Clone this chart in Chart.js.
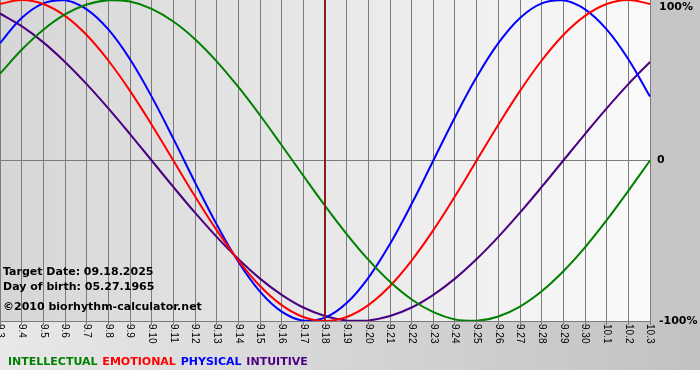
<!DOCTYPE html>
<html>
<head>
<meta charset="utf-8">
<script src="https://cdn.jsdelivr.net/npm/chart.js@4"></script>
<style>
  html, body { margin: 0; padding: 0; background: #fff; }
  #wrap { width: 700px; height: 380px; }
</style>
</head>
<body>
<div id="wrap"><canvas id="chart" width="700" height="380"></canvas></div>
<script>
// biorhythm chart, 09.03 - 10.03
const days = ['9.3','9.4','9.5','9.6','9.7','9.8','9.9','9.10','9.11','9.12','9.13','9.14','9.15','9.16','9.17','9.18',
  '9.19','9.20','9.21','9.22','9.23','9.24','9.25','9.26','9.27','9.28','9.29','9.30','10.1','10.2','10.3'];

const intellectual = [0.541, 0.690, 0.815, 0.910, 0.972, 0.999, 0.990, 0.945, 0.866, 0.756, 0.618, 0.458, 0.282, 0.095, -0.095, -0.282,
  -0.458, -0.618, -0.756, -0.866, -0.945, -0.990, -0.999, -0.972, -0.910, -0.815, -0.690, -0.541, -0.372, -0.189, 0];
const emotional = [0.975, 1, 0.975, 0.901, 0.782, 0.623, 0.434, 0.223, 0, -0.223, -0.434, -0.623, -0.782, -0.901, -0.975, -1,
  -0.975, -0.901, -0.782, -0.623, -0.434, -0.223, 0, 0.223, 0.434, 0.623, 0.782, 0.901, 0.975, 1, 0.975];
const physical = [0.731, 0.888, 0.979, 0.998, 0.942, 0.817, 0.631, 0.398, 0.136, -0.136, -0.398, -0.631, -0.817, -0.942, -0.998, -0.979,
  -0.888, -0.731, -0.520, -0.270, 0, 0.270, 0.520, 0.731, 0.888, 0.979, 0.998, 0.942, 0.817, 0.631, 0.398];
const intuitive = [0.916, 0.837, 0.736, 0.614, 0.476, 0.325, 0.165, 0, -0.165, -0.325, -0.476, -0.614, -0.736, -0.837, -0.916, -0.969,
  -0.997, -0.997, -0.969, -0.916, -0.837, -0.736, -0.614, -0.476, -0.325, -0.165, 0, 0.165, 0.325, 0.476, 0.614];

const yTicks = [1, 0, -1];
const yTickLabels = ['100%', '0', '-100%'];
const targetDay = '9.18';
const infoLines = ['Target Date: 09.18.2025', 'Day of birth: 05.27.1965', '\u00a92010 biorhythm-calculator.net'];

const boldFont = "bold 11px 'DejaVu Sans', Verdana, sans-serif";

const backdrop = {
  id: 'backdrop',
  beforeDraw(chart) {
    const { ctx, chartArea: a, width, height } = chart;
    ctx.save();
    ctx.fillStyle = '#fff';
    ctx.fillRect(0, 0, width, height);
    let g = ctx.createLinearGradient(0, 0, width, 0);
    g.addColorStop(0, '#e8e8e8');
    g.addColorStop(1, '#c2c2c2');
    ctx.fillStyle = g;
    ctx.fillRect(0, a.bottom, width, 370 - a.bottom);
    ctx.fillStyle = '#c6c6c6';
    ctx.fillRect(a.right, 0, width - a.right, a.bottom);
    g = ctx.createLinearGradient(a.left, 0, a.right, 0);
    g.addColorStop(0, '#d6d6d6');
    g.addColorStop(1, '#fafafa');
    ctx.fillStyle = g;
    ctx.fillRect(a.left, a.top, a.right - a.left, a.bottom - a.top);
    ctx.restore();
  }
};

const overlay = {
  id: 'overlay',
  afterDraw(chart) {
    const { ctx, chartArea: a } = chart;
    const x = chart.scales.x, y = chart.scales.y;
    ctx.save();

    // target date marker
    const tx = Math.round(x.getPixelForValue(days.indexOf(targetDay)));
    ctx.strokeStyle = '#8b1c1c';
    ctx.lineWidth = 2;
    ctx.beginPath();
    ctx.moveTo(tx, a.top);
    ctx.lineTo(tx, a.bottom);
    ctx.stroke();

    // date labels, rotated clockwise
    ctx.fillStyle = '#000';
    ctx.font = "10px 'Liberation Sans', Arial, sans-serif";
    ctx.textAlign = 'left';
    ctx.textBaseline = 'middle';
    days.forEach((d, i) => {
      ctx.save();
      ctx.translate(x.getPixelForValue(i), a.bottom + 3);
      ctx.rotate(Math.PI / 2);
      ctx.fillText(d, 0, 0);
      ctx.restore();
    });

    // percent labels on the right
    ctx.font = boldFont;
    yTicks.forEach((v, i) => {
      const py = Math.min(Math.max(y.getPixelForValue(v), 7), a.bottom + 1);
      ctx.fillText(yTickLabels[i], v === 0 ? a.right + 7 : a.right + 9, py);
    });

    // info text
    infoLines.forEach((t, i) => {
      ctx.fillText(t, 3, [272, 287, 307][i]);
    });

    // legend
    let lx = 8;
    chart.data.datasets.forEach(ds => {
      ctx.fillStyle = ds.borderColor;
      ctx.fillText(ds.label, lx, 362);
      lx += ctx.measureText(ds.label + ' ').width + 1;
    });
    ctx.restore();
  }
};

function line(label, data, color) {
  return { label, data, borderColor: color, borderWidth: 2, pointRadius: 0, tension: 0.4, fill: false };
}

new Chart(document.getElementById('chart'), {
  type: 'line',
  data: {
    labels: days,
    datasets: [
      line('INTELLECTUAL', intellectual, '#008000'),
      line('EMOTIONAL', emotional, '#ff0000'),
      line('PHYSICAL', physical, '#0000ff'),
      line('INTUITIVE', intuitive, '#4b0082')
    ]
  },
  options: {
    responsive: false,
    animation: false,
    layout: { padding: 0 },
    plugins: { legend: { display: false }, tooltip: { enabled: false } },
    scales: {
      x: {
        offset: false,
        grid: { color: '#7c7c7c', lineWidth: 1, tickLength: 4, drawTicks: true, offset: false },
        border: { color: '#7c7c7c' },
        ticks: { display: false, autoSkip: false },
        afterFit: s => { s.height = 59; }
      },
      y: {
        position: 'right',
        min: -1,
        max: 1,
        grid: {
          drawTicks: false,
          color: c => (c.tick && c.tick.value === 0 ? '#7c7c7c' : 'rgba(0,0,0,0)')
        },
        border: { display: false },
        ticks: { display: false, stepSize: 1 },
        afterFit: s => { s.width = 50; }
      }
    }
  },
  plugins: [backdrop, overlay]
});
</script>
</body>
</html>
